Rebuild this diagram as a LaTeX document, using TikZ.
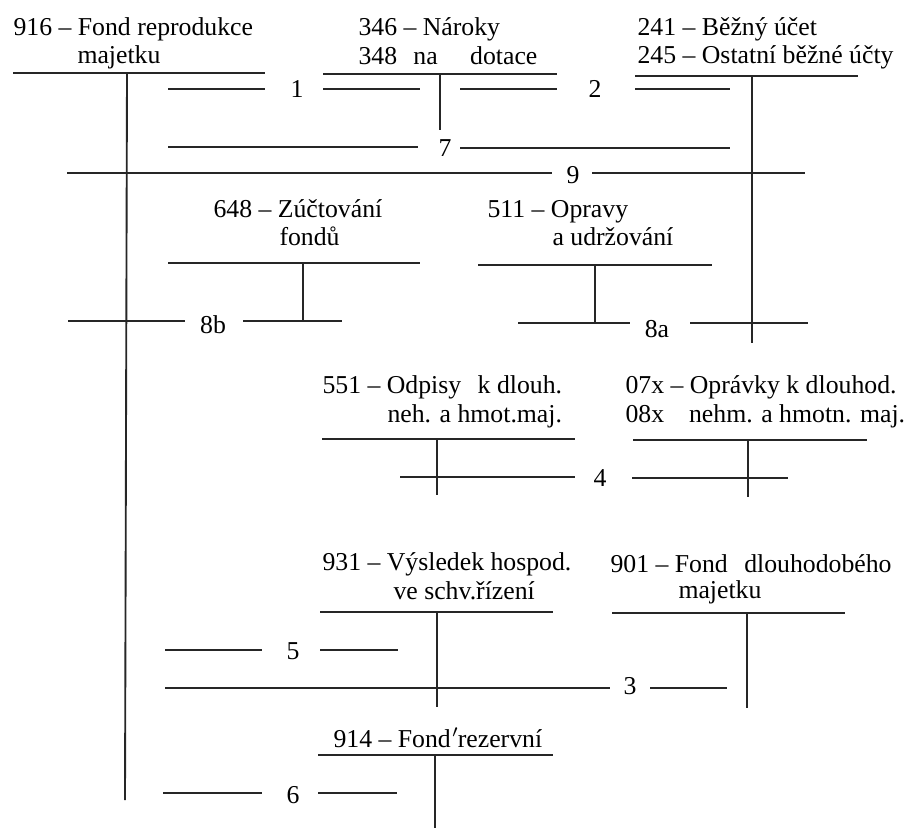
\documentclass[tikz,border=0pt]{standalone}
\usepackage{fontspec}
\setmainfont{Liberation Serif}
\tikzset{
  acc/.style={line width=0.75pt, black!85},
  lbl/.style={anchor=base west, inner sep=0pt, font=\fontsize{10.3}{12}\selectfont},
  num/.style={inner sep=0pt, font=\fontsize{10.3}{12}\selectfont}
}
\begin{document}
\begin{tikzpicture}[x=0.4pt, y=-0.4pt]
\useasboundingbox (0,0) rectangle (904,828);

% Account titles
\node[lbl] (t916a) at (13,35) {916 -- Fond reprodukce};
\node[lbl] (t916b) at (77,63) {majetku};
\node[lbl] (t346a) at (358,35) {346 -- Nároky};
\node[lbl] (t346b) at (358,64) {348\hspace{6.5pt}na\hspace{13pt}dotace};
\node[lbl] (t241a) at (637,35) {241 -- Běžný účet};
\node[lbl] (t241b) at (637,63) {245 -- Ostatní běžné účty};
\node[lbl] (t648a) at (213,217) {648 -- Zúčtování};
\node[lbl] (t648b) at (279,245) {fondů};
\node[lbl] (t511a) at (487,217) {511 -- Opravy};
\node[lbl] (t511b) at (552,245) {a udržování};
\node[lbl] (t551a) at (322,393) {551 -- Odpisy\hspace{4pt} k dlouh.};
\node[lbl] (t551b) at (387,422) {neh. a hmot.maj.};
\node[lbl] (t07xa) at (625,393) {07x -- Oprávky k dlouhod.};
\node[lbl] (t07xb) at (625,422) {08x\hspace{10pt}nehm. a hmotn. maj.};
\node[lbl] (t931a) at (322,570) {931 -- Výsledek hospod.};
\node[lbl] (t931b) at (393,599) {ve schv.řízení};
\node[lbl] (t901a) at (610,572) {901 -- Fond\hspace{4pt} dlouhodobého};
\node[lbl] (t901b) at (678,598) {majetku};
\node[lbl] (t914a) at (333,747) {914 -- Fond\kern0.5pt$'$\kern-0.5pt rezervní};

% T-accounts: top line and vertical line
\draw[acc] (13,73) -- (265,73);   \draw[acc] (127,73) -- (125,800);  % 916
\draw[acc] (323,74) -- (557,74);  \draw[acc] (440,74) -- (440,130);  % 346/348
\draw[acc] (635,76) -- (858,76);  \draw[acc] (752,76) -- (752,343);  % 241/245
\draw[acc] (168,263) -- (420,263); \draw[acc] (303,263) -- (303,321); % 648
\draw[acc] (478,265) -- (712,265); \draw[acc] (595,265) -- (595,323); % 511
\draw[acc] (322,439) -- (575,439); \draw[acc] (437,439) -- (437,495); % 551
\draw[acc] (633,440) -- (867,440); \draw[acc] (748,440) -- (748,497); % 07x/08x
\draw[acc] (320,612) -- (553,612); \draw[acc] (437,612) -- (437,707); % 931
\draw[acc] (612,613) -- (845,613); \draw[acc] (747,613) -- (747,708); % 901
\draw[acc] (318,755) -- (553,755); \draw[acc] (435,755) -- (435,828); % 914

% Postings
\draw[acc] (168,89) -- (265,89);  \node[num] (n1) at (297,89) {1};  \draw[acc] (323,89) -- (420,89);
\draw[acc] (460,89) -- (557,89);  \node[num] (n2) at (595,89) {2};  \draw[acc] (635,89) -- (730,89);
\draw[acc] (168,147) -- (418,147); \node[num] (n7) at (445,148) {7}; \draw[acc] (460,148) -- (730,148);
\draw[acc] (67,173) -- (552,173); \node[num] (n9) at (573,175) {9};  \draw[acc] (592,173) -- (805,173);
\draw[acc] (68,321) -- (185,321); \node[num] (n8b) at (213,325) {8b}; \draw[acc] (243,321) -- (342,321);
\draw[acc] (518,323) -- (630,323); \node[num] (n8a) at (657,329) {8a}; \draw[acc] (690,323) -- (808,323);
\draw[acc] (400,477) -- (575,477); \node[num] (n4) at (600,478) {4}; \draw[acc] (632,478) -- (788,478);
\draw[acc] (165,650) -- (262,650); \node[num] (n5) at (293,651) {5}; \draw[acc] (320,650) -- (398,650);
\draw[acc] (165,688) -- (610,688); \node[num] (n3) at (630,686) {3}; \draw[acc] (650,688) -- (727,688);
\draw[acc] (163,793) -- (262,793); \node[num] (n6) at (293,795) {6}; \draw[acc] (318,793) -- (397,793);

\end{tikzpicture}
\end{document}
